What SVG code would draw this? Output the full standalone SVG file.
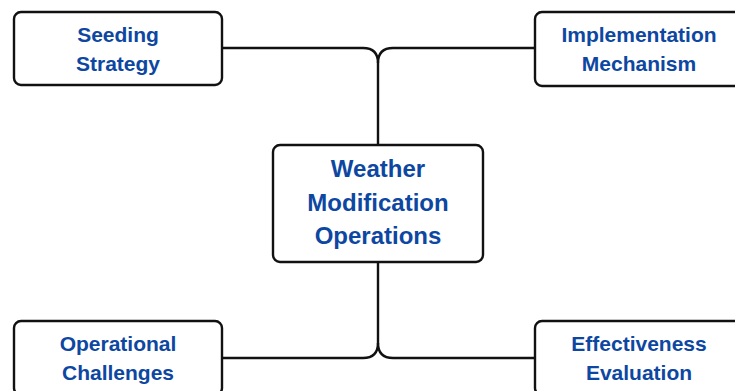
<svg xmlns="http://www.w3.org/2000/svg" width="735" height="391" viewBox="0 0 735 391">
<style>
.box{fill:#ffffff;stroke:#111111;stroke-width:2.4}
.lbl{font-family:"Liberation Sans",Arial,sans-serif;font-weight:bold;fill:#0d47a1;text-anchor:middle;font-size:21px}
.big{font-size:24px}
.conn{fill:none;stroke:#111111;stroke-width:2.4}
</style>
<rect width="735" height="391" fill="#ffffff"/>
<g id="connectors">
<path class="conn" d="M222,48 H363 Q378,48 378,63 V145"/>
<path class="conn" d="M535,48 H393 Q378,48 378,63"/>
<path class="conn" d="M378,262 V343 Q378,358 363,358 H222"/>
<path class="conn" d="M378,343 Q378,358 393,358 H535"/>
</g>
<g id="seeding-strategy">
<rect class="box" x="14" y="12" width="208" height="73" rx="7"/>
<text class="lbl" x="118" y="41.5">Seeding</text>
<text class="lbl" x="118" y="70.5">Strategy</text>
</g>
<g id="implementation-mechanism">
<rect class="box" x="535" y="12" width="208" height="74" rx="7"/>
<text class="lbl" x="639" y="41.5">Implementation</text>
<text class="lbl" x="639" y="70.5">Mechanism</text>
</g>
<g id="weather-modification-operations">
<rect class="box" x="273" y="145" width="210" height="117" rx="7"/>
<text class="lbl big" x="378" y="177">Weather</text>
<text class="lbl big" x="378" y="210.5">Modification</text>
<text class="lbl big" x="378" y="244">Operations</text>
</g>
<g id="operational-challenges">
<rect class="box" x="14" y="321" width="208" height="74" rx="7"/>
<text class="lbl" x="118" y="351">Operational</text>
<text class="lbl" x="118" y="380">Challenges</text>
</g>
<g id="effectiveness-evaluation">
<rect class="box" x="535" y="321" width="208" height="74" rx="7"/>
<text class="lbl" x="639" y="351">Effectiveness</text>
<text class="lbl" x="639" y="380">Evaluation</text>
</g>
</svg>
